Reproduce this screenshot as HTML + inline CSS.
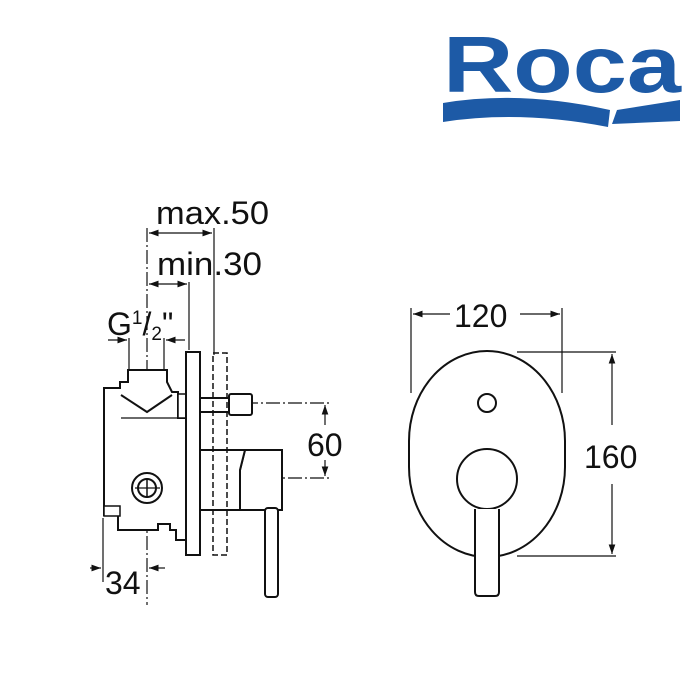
<!DOCTYPE html>
<html><head><meta charset="utf-8"><style>
body{margin:0;background:#fff}
svg{display:block}
text{font-family:"Liberation Sans",sans-serif;fill:#111}
</style></head><body>
<svg width="700" height="700" viewBox="0 0 700 700" xmlns="http://www.w3.org/2000/svg">
<defs>
<marker id="a" viewBox="0 0 10 10" refX="10" refY="5" markerWidth="8" markerHeight="8" orient="auto-start-reverse"><path d="M0,1.5 L10,5 L0,8.5 z" fill="#111"/></marker>
</defs>
<!-- Logo -->
<text x="443" y="92" font-size="80" font-weight="bold" style="fill:#1d5aa6" textLength="238" lengthAdjust="spacingAndGlyphs">Roca</text>
<path d="M443,103 Q520,90 610,110 L608,127 Q520,110 443,122 Z" fill="#1d5aa6"/>
<path d="M617,110 L680,100 L680,121 L612,124 Z" fill="#1d5aa6"/>

<g stroke="#111" fill="none" stroke-width="1.2">
<line x1="147" y1="228" x2="147" y2="605" stroke-dasharray="14,3,2,3"/>
<line x1="200" y1="403" x2="332" y2="403" stroke-dasharray="14,3,2,3"/>
<line x1="200" y1="478" x2="332" y2="478" stroke-dasharray="14,3,2,3"/>
<line x1="120" y1="488" x2="174" y2="488"/>
<line x1="214" y1="228" x2="214" y2="355"/>
<line x1="189" y1="282" x2="189" y2="350"/>
<line x1="129" y1="338" x2="129" y2="370"/>
<line x1="164" y1="338" x2="164" y2="370"/>
<line x1="103" y1="518" x2="103" y2="582"/>
<line x1="149" y1="233" x2="212" y2="233" marker-start="url(#a)" marker-end="url(#a)"/>
<line x1="149" y1="284" x2="187" y2="284" marker-start="url(#a)" marker-end="url(#a)"/>
<line x1="108" y1="340" x2="127" y2="340" marker-end="url(#a)"/>
<line x1="185" y1="340" x2="166" y2="340" marker-end="url(#a)"/>
<line x1="325" y1="405" x2="325" y2="425" marker-start="url(#a)"/>
<line x1="325" y1="460" x2="325" y2="476" marker-end="url(#a)"/>
<line x1="90" y1="568" x2="101" y2="568" marker-end="url(#a)"/>
<line x1="165" y1="568" x2="149" y2="568" marker-end="url(#a)"/>
</g>
<g stroke="#111" fill="#fff" stroke-width="2">
<path d="M104,388 L120,388 L120,382 L128,382 L128,370 L167,370 L167,382 L172,392 L178,392 L178,418 L187,418 L187,540 L176,540 L176,530 L170,530 L170,524 L158,524 L158,530 L118,530 L118,515 L104,515 Z"/>
<path d="M121,395 L147,412 L172,395" fill="none"/>
<path d="M121,418 L178,418" fill="none" stroke-width="1.2"/>
<rect x="104" y="506" width="16" height="10" stroke-width="1.5"/>
<rect x="178" y="394" width="9" height="24" stroke-width="1.5"/>
<circle cx="147" cy="488" r="15"/>
<circle cx="147" cy="488" r="9"/>
<line x1="147" y1="478" x2="147" y2="498" stroke-width="1.5"/>
<line x1="135" y1="488" x2="160" y2="488" stroke-width="1.2"/>
<rect x="200" y="398" width="30" height="14"/>
<rect x="229" y="394" width="23" height="21" rx="2"/>
<path d="M200,450 L282,450 L282,510 L240,510 L240,470 L245,450" />
<path d="M200,450 L245,450 L240,470 L240,510 L200,510 Z"/>
<rect x="265" y="508" width="13" height="89" rx="3"/>
<path d="M186,352 L200,352 L200,555 L186,555 Z"/>
</g>
<rect x="213" y="353" width="14" height="202" fill="none" stroke="#111" stroke-width="1.5" stroke-dasharray="6,3"/>

<g stroke="#111" fill="none" stroke-width="1.2">
<line x1="411" y1="308" x2="411" y2="393"/>
<line x1="562" y1="308" x2="562" y2="393"/>
<line x1="413" y1="314" x2="450" y2="314" marker-start="url(#a)"/>
<line x1="520" y1="314" x2="560" y2="314" marker-end="url(#a)"/>
<line x1="517" y1="352" x2="616" y2="352"/>
<line x1="517" y1="556" x2="616" y2="556"/>
<line x1="612" y1="354" x2="612" y2="425" marker-start="url(#a)"/>
<line x1="612" y1="484" x2="612" y2="554" marker-end="url(#a)"/>
</g>
<g stroke="#111" fill="#fff" stroke-width="2">
<rect x="409" y="351" width="156" height="206" rx="78" ry="90"/>
<circle cx="487" cy="403" r="9"/>
<circle cx="487" cy="479" r="30"/>
<path d="M475,509 L475,592 Q475,596 479,596 L495,596 Q499,596 499,592 L499,509"/>
</g>

<text x="156" y="224" font-size="32" textLength="113" lengthAdjust="spacingAndGlyphs">max.50</text>
<text x="157" y="275" font-size="32" textLength="105" lengthAdjust="spacingAndGlyphs">min.30</text>
<text x="107" y="335" font-size="32">G<tspan font-size="19" dy="-11">1</tspan><tspan dy="11">/</tspan><tspan font-size="19" dy="5">2</tspan><tspan dy="-5">"</tspan></text>
<text x="307" y="456" font-size="32">60</text>
<text x="105" y="594" font-size="32">34</text>
<text x="454" y="327" font-size="32">120</text>
<text x="584" y="468" font-size="32">160</text>
</svg>
</body></html>
